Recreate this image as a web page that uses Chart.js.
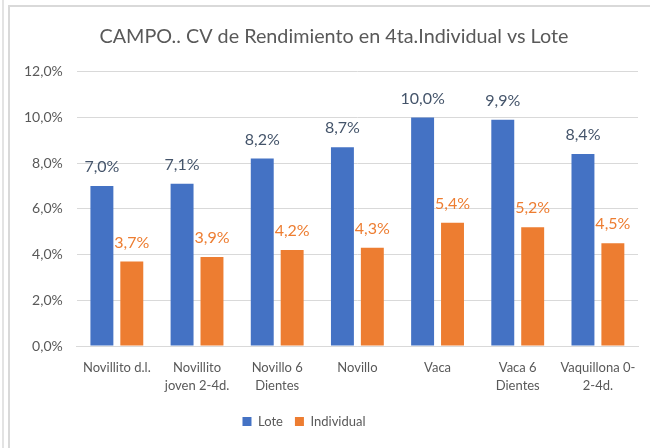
<!DOCTYPE html>
<html>
<head>
<meta charset="utf-8">
<script src="https://cdn.jsdelivr.net/npm/chart.js@4.4.1/dist/chart.umd.min.js"></script>
<style>
  html, body { margin: 0; padding: 0; background: #fff; }
  #wrap { position: relative; width: 650px; height: 448px; }
  #frame { position: absolute; left: 8px; top: 5px; right: -10px; bottom: -10px;
           border-left: 2px solid #d9d9d9; border-top: 2px solid #d9d9d9; pointer-events: none; }
  #edge { position: absolute; left: 2px; top: 0; width: 2px; height: 448px; background: #e3e3e3; }
</style>
</head>
<body>
<div id="wrap">
  <canvas id="cvChart" width="650" height="448"></canvas>
  <div id="edge"></div>
  <div id="frame"></div>
</div>
<script>
// categories and series
const categories = [
  'Novillito d.l.',
  ['Novillito', 'joven 2-4d.'],
  ['Novillo 6', 'Dientes'],
  'Novillo',
  'Vaca',
  ['Vaca 6', 'Dientes'],
  ['Vaquillona 0-', '2-4d.']
];
const loteValues = [7.0, 7.1, 8.2, 8.7, 10.0, 9.9, 8.4];
const individualValues = [3.7, 3.9, 4.2, 4.3, 5.4, 5.2, 4.5];
const yTicks = [0, 2, 4, 6, 8, 10, 12];

const FONT = 'Lato, "Open Sans", sans-serif';
const pct = v => v.toFixed(1).replace('.', ',') + '%';

// Draws the value labels above each bar
const barValueLabels = {
  id: 'barValueLabels',
  afterDatasetsDraw(chart) {
    const ctx = chart.ctx;
    const colors = ['#44546a', '#ed7d31'];
    ctx.save();
    ctx.font = '16px ' + FONT;
    ctx.textAlign = 'center';
    ctx.textBaseline = 'middle';
    chart.data.datasets.forEach((ds, i) => {
      const meta = chart.getDatasetMeta(i);
      ctx.fillStyle = colors[i];
      meta.data.forEach((bar, j) => {
        ctx.fillText(pct(ds.data[j]), bar.x, bar.y - 19);
      });
    });
    ctx.restore();
  }
};

// nudge title right and legend left, as in the Excel original
const shiftBlocks = {
  id: 'shiftBlocks',
  afterLayout(chart) {
    const lg = chart.legend;
    lg.left -= 20;
    lg.right -= 20;
    if (lg.adjustHitBoxes) lg.adjustHitBoxes();
    const tb = chart.titleBlock;
    tb.left += 10;
    tb.right += 10;
  }
};

new Chart(document.getElementById('cvChart').getContext('2d'), {
  type: 'bar',
  data: {
    labels: categories,
    datasets: [
      {
        label: 'Lote',
        data: loteValues,
        backgroundColor: '#4472c4',
        categoryPercentage: 0.746,
        barPercentage: 0.767
      },
      {
        label: 'Individual',
        data: individualValues,
        backgroundColor: '#ed7d31',
        categoryPercentage: 0.746,
        barPercentage: 0.767
      }
    ]
  },
  options: {
    responsive: false,
    animation: false,
    layout: { padding: { left: 10, right: 12, top: 25, bottom: 10 } },
    plugins: {
      title: {
        display: true,
        text: 'CAMPO.. CV de Rendimiento en 4ta.Individual vs Lote',
        color: '#595959',
        font: { family: FONT, size: 19.75, weight: 'normal' },
        padding: { top: 0, bottom: 23 }
      },
      legend: {
        position: 'bottom',
        labels: {
          color: '#595959',
          font: { family: FONT, size: 13 },
          boxWidth: 9,
          boxHeight: 9,
          padding: 12
        }
      },
      tooltip: { enabled: false }
    },
    scales: {
      x: {
        grid: { display: false },
        border: { color: '#d9d9d9' },
        ticks: { color: '#595959', font: { family: FONT, size: 13, lineHeight: 1.38 }, maxRotation: 0, padding: 5 },
        afterFit: axis => { axis.height += 3; }
      },
      y: {
        min: 0,
        max: 12,
        afterBuildTicks: axis => { axis.ticks = yTicks.map(v => ({ value: v })); },
        grid: { color: '#d9d9d9', drawTicks: false },
        border: { display: false },
        ticks: { color: '#595959', font: { family: FONT, size: 14 }, padding: 14, callback: v => pct(v) }
      }
    }
  },
  plugins: [barValueLabels, shiftBlocks]
});
</script>
</body>
</html>
